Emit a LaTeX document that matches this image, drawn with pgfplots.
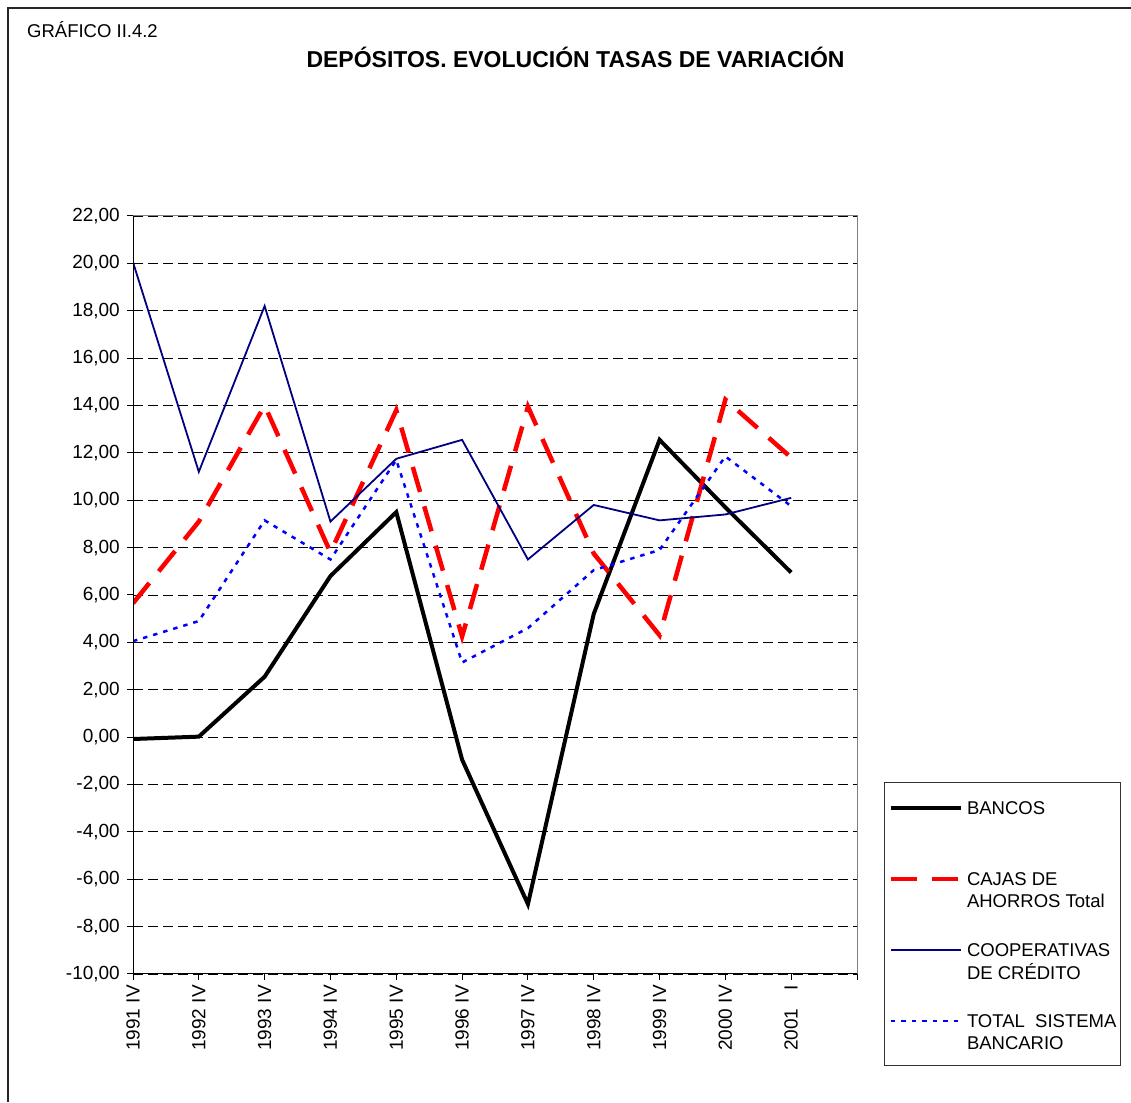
\documentclass[border=0pt]{standalone}
\usepackage{fontspec}
\setmainfont{Liberation Sans}
\usepackage{pgfplots}
\pgfplotsset{compat=1.18}
\definecolor{navyc}{RGB}{0,0,128}
\definecolor{bluec}{RGB}{0,0,255}
\definecolor{redc}{RGB}{255,0,0}
\begin{document}
\fontsize{18.5}{22}\selectfont
\begin{tikzpicture}[x=1pt,y=1pt]
\useasboundingbox (0,0) rectangle (1131,1102);
\fill[white] (0,0) rectangle (1131,1102);
\draw[line width=1.5pt, black!85] (8,0) -- (8,1094) -- (1131,1094);
\node[anchor=base west, inner sep=0pt, font=\fontsize{18.5}{22}\selectfont] at (27,1064) {GRÁFICO II.4.2};
\node[anchor=base, inner sep=0pt, font=\bfseries\fontsize{23}{27}\selectfont] at (575.5,1034) {DEPÓSITOS. EVOLUCIÓN TASAS DE VARIACIÓN};
\begin{axis}[
  at={(133pt,128pt)}, anchor=south west,
  scale only axis, width=724pt, height=758pt,
  xmin=0, xmax=11, ymin=-10, ymax=22,
  xtick={0,1,2,3,4,5,6,7,8,9,10,11},
  xticklabels={1991 IV,1992 IV,1993 IV,1994 IV,1995 IV,1996 IV,1997 IV,1998 IV,1999 IV,2000 IV,2001\hspace{0.95em}I,{}},
  ytick={-10,-8,-6,-4,-2,0,2,4,6,8,10,12,14,16,18,20,22},
  tick pos=left, tick align=outside, major tick length=6pt,
  tick style={black, line width=1pt},
  axis line style={black!50, line width=1pt},
  ymajorgrids,
  grid style={black, line width=0.8pt, dash pattern=on 10pt off 5pt},
  ticklabel style={font=\fontsize{19}{22}\selectfont},
  x tick label style={rotate=90, anchor=east, inner sep=0pt},
  y tick label style={anchor=east, inner sep=0pt},
  xticklabel shift=5pt,
  yticklabel shift=7pt,
  yticklabel style={/pgf/number format/.cd, fixed, fixed zerofill, precision=2, use comma, assume math mode=true},
  legend style={at={(1.0373,0.2533)}, anchor=north west, draw=black!80, line width=1pt, fill=white,
    inner xsep=4pt, inner ysep=13pt, column sep=4pt, row sep=27pt,
    nodes={inner sep=0pt, text height=19pt, text depth=25pt}, cells={anchor=base west},
    font=\fontsize{18.5}{22}\selectfont},
  legend image code/.code={\draw[#1] (0pt,6.7pt) -- (70pt,6.7pt);},
]
\addplot[black, line width=4pt] coordinates {(0,-0.08)(1,0.02)(2,2.55)(3,6.8)(4,9.5)(5,-0.95)(6,-7.05)(7,5.2)(8,12.55)(9,9.7)(10,6.95)};
\addlegendentry{BANCOS}
\addplot[redc, line width=4.5pt, dash pattern=on 26pt off 15pt] coordinates {(0,5.65)(1,9.1)(2,14.0)(3,7.8)(4,13.8)(5,4.25)(6,13.95)(7,7.75)(8,4.3)(9,14.25)(10,11.8)};
\addlegendentry{\begin{tabular}[t]{@{}l@{}}CAJAS DE\\ AHORROS Total\end{tabular}}
\addplot[navyc, line width=1.8pt] coordinates {(0,20.05)(1,11.2)(2,18.2)(3,9.1)(4,11.75)(5,12.55)(6,7.5)(7,9.8)(8,9.15)(9,9.4)(10,10.1)};
\addlegendentry{\begin{tabular}[t]{@{}l@{}}COOPERATIVAS\\ DE CRÉDITO\end{tabular}}
\addplot[bluec, line width=2.5pt, dash pattern=on 4.5pt off 6pt] coordinates {(0,4.05)(1,4.9)(2,9.15)(3,7.5)(4,11.7)(5,3.15)(6,4.6)(7,7.05)(8,7.9)(9,11.85)(10,9.75)};
\addlegendentry{\begin{tabular}[t]{@{}l@{}}TOTAL\ \ SISTEMA\\ BANCARIO\end{tabular}}
\draw[black, line width=1.5pt] (rel axis cs:0,1) -- (rel axis cs:0,0) -- (rel axis cs:1,0);
\end{axis}
\end{tikzpicture}
\end{document}
